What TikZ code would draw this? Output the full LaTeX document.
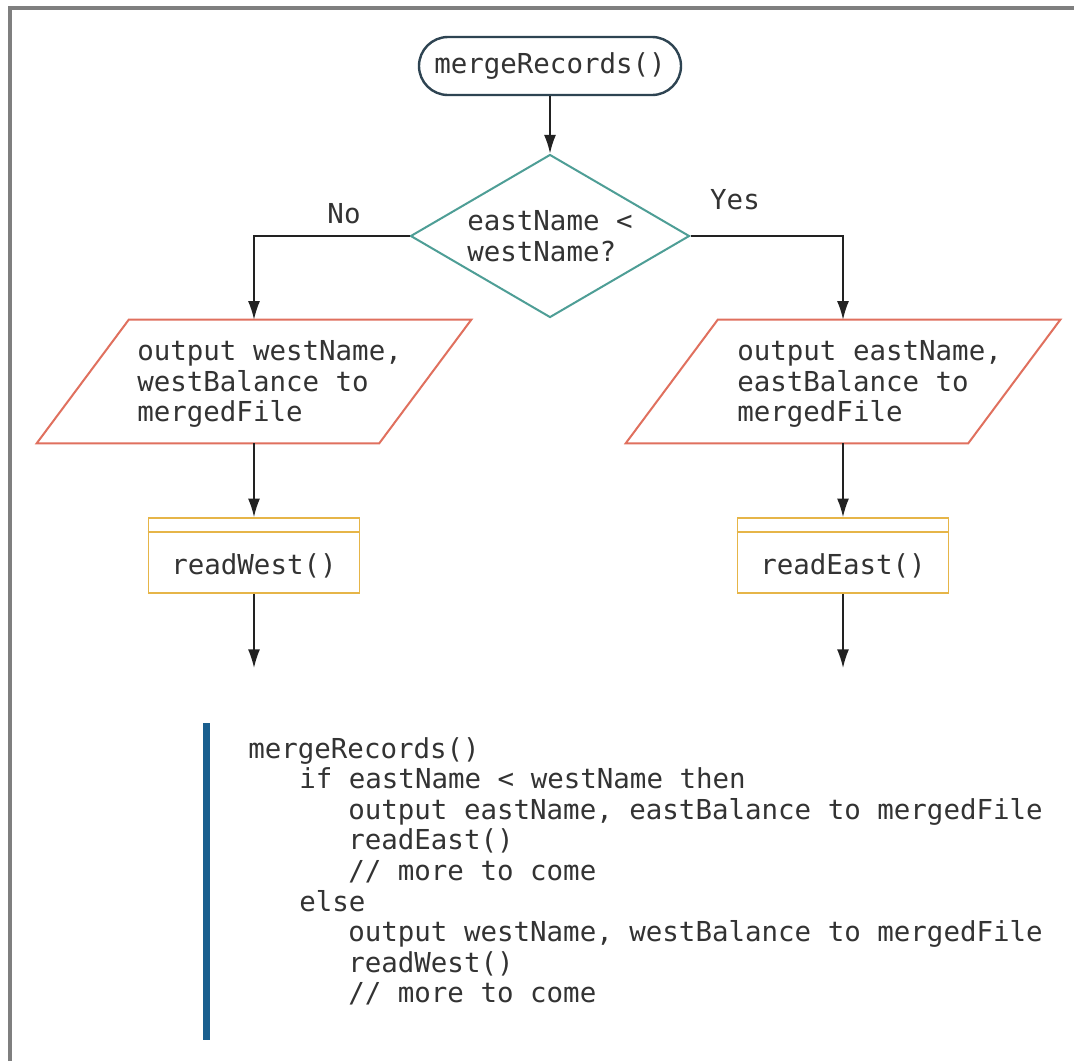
\documentclass[tikz,border=0pt]{standalone}
\usepackage{fontspec}
\setmonofont{DejaVu Sans Mono}
\usetikzlibrary{shapes.geometric,shapes.misc,arrows.meta,calc}
\definecolor{termc}{HTML}{2E4452}
\definecolor{decc}{HTML}{4E9E96}
\definecolor{parac}{HTML}{E0705E}
\definecolor{procc}{HTML}{E6B548}
\definecolor{txtc}{HTML}{333333}
\definecolor{arrc}{HTML}{222222}
\definecolor{barc}{HTML}{1A5F8F}
\definecolor{framec}{HTML}{7F7F7F}
\newcommand\fcfont{\ttfamily\fontsize{20.6pt}{23pt}\selectfont}
\tikzset{
  txt/.style={font=\fcfont, text=txtc, inner sep=0pt},
  term/.style={txt, rounded rectangle, draw=termc, line width=1.8pt,
    minimum width=196.5pt, minimum height=43.5pt},
  dec/.style={txt, diamond, draw=decc, line width=1.5pt, aspect=1.71,
    minimum width=209.25pt, minimum height=122.25pt, align=left},
  parabox/.style={rectangle, draw=none, inner sep=0pt,
    minimum width=256.5pt, minimum height=92.25pt},
  paraline/.style={draw=parac, line width=1.5pt, line join=miter},
  proc/.style={txt, rectangle, draw=procc, line width=1.2pt,
    minimum width=158.25pt, minimum height=56.25pt, inner ysep=0pt,
    text height=42.4pt, text depth=13.85pt},
  procline/.style={draw=procc, line width=1.2pt},
  arr/.style={draw=arrc, line width=1.2pt, -{Latex[length=14pt,width=9pt]}},
  code/.style={txt, anchor=base west}
}
\begin{document}
\begin{tikzpicture}[x=0.75pt,y=-0.75pt]
\useasboundingbox (0,0) rectangle (1074,1061);
\fill[white] (0,0) rectangle (1074,1061);
\draw[framec, line width=2.8pt] (10,1061) -- (10,8) -- (1074,8);

% flowchart nodes
\node[term] (start) at (550,66) {mergeRecords()};
\node[dec] (dec) at (550,236) {eastName <\\westName?};

\node[parabox] (pL) at (254,381.5) {};
\draw[paraline] ($(pL.north west)+(46,0)$) -- ($(pL.north east)+(46,0)$)
  -- ($(pL.south east)+(-46,0)$) -- ($(pL.south west)+(-46,0)$) -- cycle;
\node[txt, anchor=west, align=left] (tL) at (137,384) {output westName,\\westBalance to\\mergedFile};

\node[parabox] (pR) at (843,381.5) {};
\draw[paraline] ($(pR.north west)+(46,0)$) -- ($(pR.north east)+(46,0)$)
  -- ($(pR.south east)+(-46,0)$) -- ($(pR.south west)+(-46,0)$) -- cycle;
\node[txt, anchor=west, align=left] (tR) at (737,384) {output eastName,\\eastBalance to\\mergedFile};

\node[proc] (rL) at (254,555.5) {readWest()};
\draw[procline] ($(rL.north west)+(0,15)$) -- ($(rL.north east)+(0,15)$);
\node[proc] (rR) at (843,555.5) {readEast()};
\draw[procline] ($(rR.north west)+(0,15)$) -- ($(rR.north east)+(0,15)$);

\coordinate (endL) at (254,668);
\coordinate (endR) at (843,668);

\node[txt] (no) at (344,214) {No};
\node[txt] (yes) at (735,200) {Yes};

% connectors
\draw[arr] (start) -- (dec);
\draw[arr] (dec.west) -| (pL.north);
\draw[arr] (dec.east) -| (pR.north);
\draw[arr] (pL.south) -- (rL.north);
\draw[arr] (pR.south) -- (rR.north);
\draw[arr] (rL.south) -- (endL);
\draw[arr] (rR.south) -- (endR);

% pseudocode
\fill[barc] (203,723) rectangle (210,1040);
\node[code] (c1) at (248,758) {mergeRecords()};
\node[code] (c2) at (299,788.6) {if eastName < westName then};
\node[code] (c3) at (348,819.2) {output eastName, eastBalance to mergedFile};
\node[code] (c4) at (348,849.8) {readEast()};
\node[code] (c5) at (348,880.4) {// more to come};
\node[code] (c6) at (299,911) {else};
\node[code] (c7) at (348,941.6) {output westName, westBalance to mergedFile};
\node[code] (c8) at (348,972.2) {readWest()};
\node[code] (c9) at (348,1002.8) {// more to come};
\end{tikzpicture}
\end{document}
